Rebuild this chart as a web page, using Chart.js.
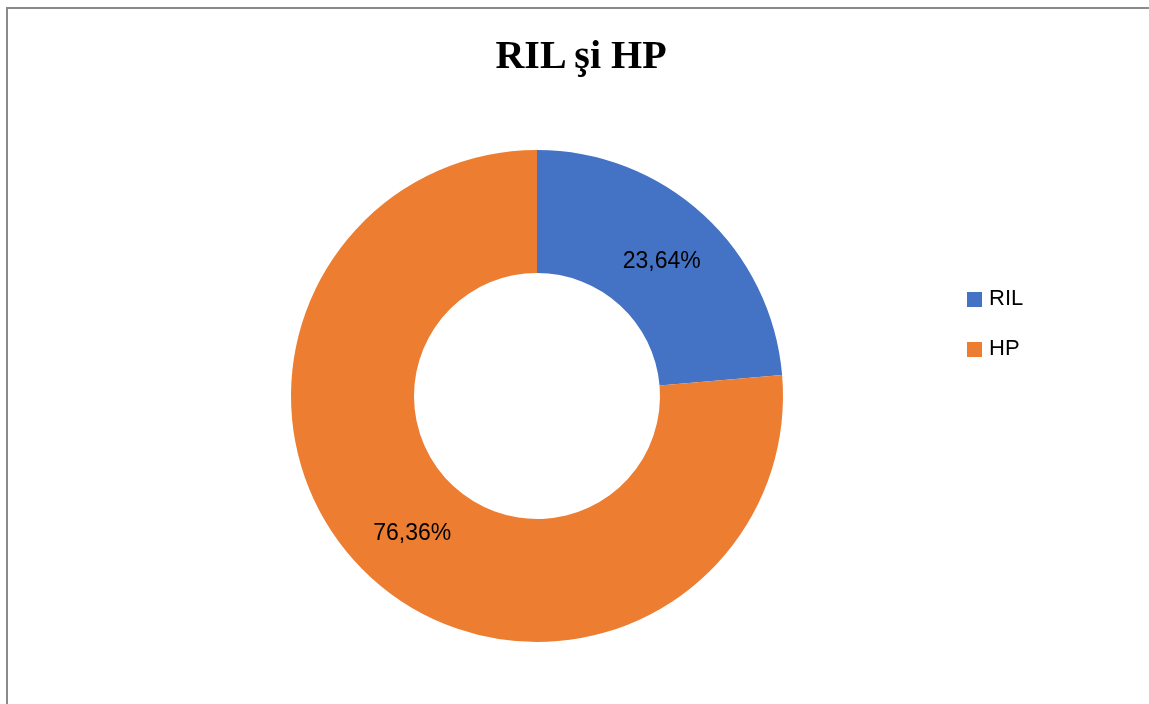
<!DOCTYPE html>
<html>
<head>
<meta charset="utf-8">
<script src="https://cdn.jsdelivr.net/npm/chart.js@4"></script>
<style>
    body { margin: 0; background: #fff; width: 1149px; height: 704px; overflow: hidden; position: relative; }
    .frame { position: absolute; left: 6px; top: 7px; right: -10px; bottom: -10px;
             border-top: 2px solid #8a8a8a; border-left: 2px solid #8a8a8a; }
    #chart { position: absolute; left: 0; top: 0; }
    .title { position: absolute; left: 0; width: 1162px; top: 31px; text-align: center;
             font: bold 40px "Liberation Serif", "Times New Roman", serif; color: #000; }
    #legend { position: absolute; left: 967px; top: 286px; font: 22px "Liberation Sans", Arial, sans-serif; color: #000; }
    .lg-row { display: flex; align-items: center; height: 24px; margin-bottom: 26px; }
    .lg-box { width: 15px; height: 15px; margin-right: 7px; margin-top: 2px; }
</style>
</head>
<body>
<div class="frame"></div>
<canvas id="chart" width="1149" height="704"></canvas>
<div class="title">RIL şi HP</div>
<div id="legend"></div>

<script>
/* ── Data ── */
const categories = ['RIL', 'HP'];
const values     = [23.64, 76.36];
const colors     = ['#4472C4', '#ED7D31'];

const fmt = v => v.toFixed(2).replace('.', ',') + '%';

/* ── Labels on the ring ── */
const sliceLabels = {
    id: 'sliceLabels',
    afterDatasetsDraw(chart) {
        const {ctx} = chart;
        const meta = chart.getDatasetMeta(0);
        ctx.save();
        ctx.fillStyle = '#000';
        ctx.font = '23px "Liberation Sans", Arial, sans-serif';
        ctx.textAlign = 'center';
        ctx.textBaseline = 'middle';
        meta.data.forEach((arc, i) => {
            const p = arc.tooltipPosition();
            ctx.fillText(fmt(values[i]), p.x, p.y + 2);
        });
        ctx.restore();
    }
};

new Chart(document.getElementById('chart').getContext('2d'), {
    type: 'doughnut',
    data: {
        labels: categories,
        datasets: [{
            data: values,
            backgroundColor: colors,
            borderWidth: 0
        }]
    },
    options: {
        responsive: false,
        devicePixelRatio: 1,
        animation: false,
        cutout: '50%',
        layout: { padding: { left: 291, right: 366, top: 150, bottom: 62 } },
        plugins: {
            legend: { display: false },
            tooltip: { enabled: false }
        }
    },
    plugins: [sliceLabels]
});

/* ── Legend ── */
const legend = document.getElementById('legend');
categories.forEach((c, i) => {
    legend.innerHTML += `
        <div class="lg-row">
            <div class="lg-box" style="background:${colors[i]}"></div>
            <span>${c}</span>
        </div>`;
});
</script>
</body>
</html>
